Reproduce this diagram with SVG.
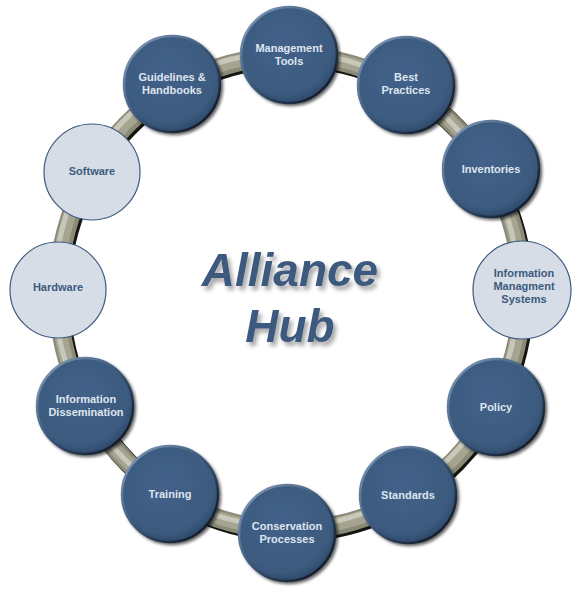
<svg xmlns="http://www.w3.org/2000/svg" width="578" height="597" viewBox="0 0 578 597">
<defs>
<radialGradient id="gDark" cx="0.45" cy="0.4" r="0.6">
<stop offset="0" stop-color="#43618a"/>
<stop offset="0.85" stop-color="#3b5a7e"/>
<stop offset="1" stop-color="#2e4a6c"/>
</radialGradient>
<linearGradient id="gEdge" x1="0" y1="0" x2="1" y2="1">
<stop offset="0" stop-color="#8ea4c0"/>
<stop offset="0.45" stop-color="#3e5c80"/>
<stop offset="1" stop-color="#05080d"/>
</linearGradient>
<filter id="shadow" x="-30%" y="-30%" width="160%" height="160%">
<feGaussianBlur in="SourceAlpha" stdDeviation="1.5"/>
<feOffset dx="1.5" dy="2" result="b"/>
<feComponentTransfer><feFuncA type="linear" slope="0.6"/></feComponentTransfer>
<feMerge><feMergeNode/><feMergeNode in="SourceGraphic"/></feMerge>
</filter>
<filter id="tshadow" x="-20%" y="-30%" width="140%" height="160%">
<feGaussianBlur in="SourceAlpha" stdDeviation="2"/>
<feOffset dx="3" dy="4"/>
<feComponentTransfer><feFuncA type="linear" slope="0.35"/></feComponentTransfer>
<feMerge><feMergeNode/><feMergeNode in="SourceGraphic"/></feMerge>
</filter>
<style>
.dark circle.b{fill:url(#gDark);stroke:url(#gEdge);stroke-width:2.5;filter:url(#shadow)}
.light circle.b{fill:#d6dde6;stroke:#3c5a7e;stroke-width:1.2}
text{font-family:"Liberation Sans",Arial,sans-serif;font-weight:bold;font-size:11px;text-anchor:middle}
.dark text{fill:#dfe5ee}
.light text{fill:#3c5a7e}
.title{font-size:46px;font-style:italic;fill:#3c5a7e;filter:url(#tshadow)}
.ring{fill:none}
</style>
</defs>
<rect width="578" height="597" fill="#ffffff"/>
<g id="connectors">
<ellipse class="ring" cx="292" cy="295" rx="232" ry="237" stroke="#141410" stroke-width="20"/>
<ellipse class="ring" cx="290" cy="293" rx="232" ry="237" stroke="#8a8a76" stroke-width="19"/>
<ellipse class="ring" cx="289" cy="292" rx="232" ry="237" stroke="#a4a490" stroke-width="13"/>
<ellipse class="ring" cx="286.5" cy="289.5" rx="232" ry="237" stroke="#c8c8ba" stroke-width="5"/>
</g>
<g id="title">
<text class="title" x="290" y="286">Alliance</text>
<text class="title" x="290" y="342">Hub</text>
</g>
<g id="n-management-tools" class="dark"><circle class="b" cx="289" cy="55" r="48"/><text x="289" y="52">Management</text><text x="289" y="65">Tools</text></g>
<g id="n-best-practices" class="dark"><circle class="b" cx="406" cy="85" r="48"/><text x="406" y="81">Best</text><text x="406" y="94">Practices</text></g>
<g id="n-inventories" class="dark"><circle class="b" cx="491" cy="169" r="48"/><text x="491" y="173">Inventories</text></g>
<g id="n-info-mgmt-systems" class="light"><circle class="b" cx="522" cy="290" r="49"/><text x="524" y="277">Information</text><text x="524" y="290">Managment</text><text x="524" y="303">Systems</text></g>
<g id="n-policy" class="dark"><circle class="b" cx="496" cy="407" r="48"/><text x="496" y="411">Policy</text></g>
<g id="n-standards" class="dark"><circle class="b" cx="408" cy="495" r="48"/><text x="408" y="499">Standards</text></g>
<g id="n-conservation-processes" class="dark"><circle class="b" cx="287" cy="533" r="48"/><text x="287" y="530">Conservation</text><text x="287" y="543">Processes</text></g>
<g id="n-training" class="dark"><circle class="b" cx="170" cy="494" r="48"/><text x="170" y="498">Training</text></g>
<g id="n-info-dissemination" class="dark"><circle class="b" cx="85" cy="406" r="48"/><text x="86" y="403">Information</text><text x="86" y="416">Dissemination</text></g>
<g id="n-hardware" class="light"><circle class="b" cx="58" cy="290" r="48"/><text x="58" y="291">Hardware</text></g>
<g id="n-software" class="light"><circle class="b" cx="92" cy="172" r="48"/><text x="92" y="175">Software</text></g>
<g id="n-guidelines-handbooks" class="dark"><circle class="b" cx="172" cy="84" r="48"/><text x="172" y="81">Guidelines &amp;</text><text x="172" y="94">Handbooks</text></g>
</svg>
